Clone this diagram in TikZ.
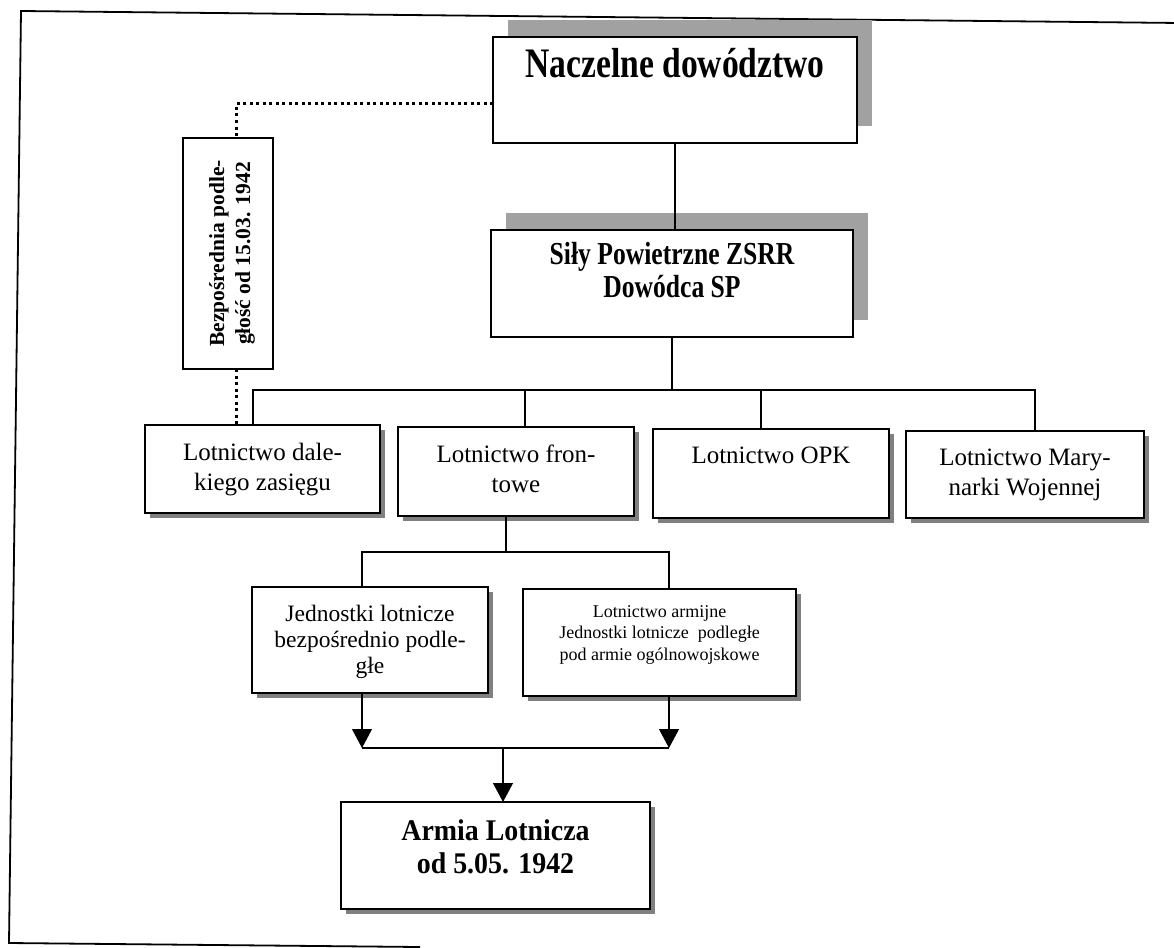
\documentclass[tikz,border=0pt]{standalone}
\usepackage{graphicx}
\usepackage{fontspec}
\setmainfont{Liberation Serif}
\usetikzlibrary{arrows.meta,shadows}
\newcommand\bt[4]{\parbox[c][#2][t]{#1}{\centering\rule{0pt}{#3}#4}}
\newcommand\cx[1]{\scalebox{0.8}[1]{#1}}
\tikzset{
  box/.style={draw, line width=1.5pt, fill=white, inner sep=0pt, outer sep=0pt},
  bigshadow/.style={drop shadow={shadow xshift=15pt, shadow yshift=17pt, fill=black!37, opacity=1}},
  smallshadow/.style={drop shadow={shadow xshift=5pt, shadow yshift=-5pt, fill=black!50, opacity=1}},
  conn/.style={line width=1.1pt},
  dots/.style={line width=3pt, dash pattern=on 3pt off 3.5pt},
  arr/.style={conn, -{Triangle[width=20pt,length=19pt]}},
  frame/.style={line width=1.8pt}
}
\begin{document}
\begin{tikzpicture}[x=1pt,y=-1pt]
\useasboundingbox (0,0) rectangle (1174,947);
% frame (scanned page, slightly rotated)
\draw[frame] (1180,23) -- (21,11) -- (9,943) -- (420,947);

% nodes
\node[box,bigshadow] (N) at (675,90)
  {\bt{364pt}{106pt}{41pt}{\fontsize{42}{44}\selectfont\bfseries\cx{Naczelne dowództwo}}};
\node[box,bigshadow] (S) at (672,283.5)
  {\bt{362pt}{107pt}{34pt}{\fontsize{32}{33}\selectfont\bfseries\cx{Siły Powietrzne ZSRR}\\\cx{Dowódca SP}}};
\node[box] (B) at (228,253.5)
  {\rotatebox{90}{\bt{231pt}{90pt}{41pt}{\fontsize{21.5}{26}\selectfont\bfseries Bezpośrednia podle-\\głość od 15.03. 1942}}};
\node[box,smallshadow] (D) at (262.5,469)
  {\bt{235pt}{88pt}{35pt}{\fontsize{25}{30}\selectfont Lotnictwo dale-\\kiego zasięgu}};
\node[box,smallshadow] (F) at (516,471.5)
  {\bt{236pt}{89pt}{35pt}{\fontsize{25}{30}\selectfont Lotnictwo fron-\\towe}};
\node[box,smallshadow] (O) at (771,473.5)
  {\bt{236pt}{89pt}{34pt}{\fontsize{25}{30}\selectfont Lotnictwo OPK}};
\node[box,smallshadow] (M) at (1025,474.5)
  {\bt{238pt}{87pt}{34pt}{\fontsize{25}{30}\selectfont Lotnictwo Mary-\\narki Wojennej}};
\node[box,smallshadow] (J) at (370,640)
  {\bt{236pt}{106pt}{34pt}{\fontsize{23.5}{26}\selectfont Jednostki lotnicze\\bezpośrednio podle-\\głe}};
\node[box,smallshadow] (A) at (659.5,642.5)
  {\bt{273pt}{107pt}{28pt}{\fontsize{18}{21.5}\selectfont Lotnictwo armijne\\Jednostki lotnicze\ \ podległe\\pod armie ogólnowojskowe}};
\node[box,smallshadow] (AL) at (495.5,855.5)
  {\bt{309pt}{107pt}{38pt}{\fontsize{30}{33}\selectfont\bfseries\scalebox{0.93}[1]{Armia Lotnicza}\\\scalebox{0.93}[1]{od 5.05. 1942}}};

% coordinates
\coordinate (dl) at (236,104);
\coordinate (busL) at (253,390);
\coordinate (busR) at (1035,390);
\coordinate (fx) at (525,390);
\coordinate (ox) at (761,390);
\coordinate (fb) at (506,552);
\coordinate (lbL) at (362,552);
\coordinate (lbR) at (669,552);
\coordinate (mL) at (362,748);
\coordinate (mR) at (669,748);
\coordinate (mC) at (503,748);

% connectors
\draw[conn] (N.south) -- (N.south |- S.north);
\draw[conn] (S.south) -- (S.south |- busL);
\draw[conn] (D.north -| busL) -- (busL) -- (busR) -- (M.north -| busR);
\draw[conn] (fx) -- (F.north -| fx);
\draw[conn] (ox) -- (O.north -| ox);
\draw[conn] (F.south -| fb) -- (fb);
\draw[conn] (J.north -| lbL) -- (lbL) -- (lbR) -- (A.north -| lbR);
\draw[arr] (J.south -| mL) -- (mL);
\draw[arr] (A.south -| mR) -- (mR);
\draw[conn] (mL) -- (mR);
\draw[arr] (mC) -- (AL.north -| mC);
\draw[dots] (N.west |- dl) -- (dl) -- (B.north -| dl);
\draw[dots] (B.south -| dl) -- (D.north -| dl);
\end{tikzpicture}
\end{document}
